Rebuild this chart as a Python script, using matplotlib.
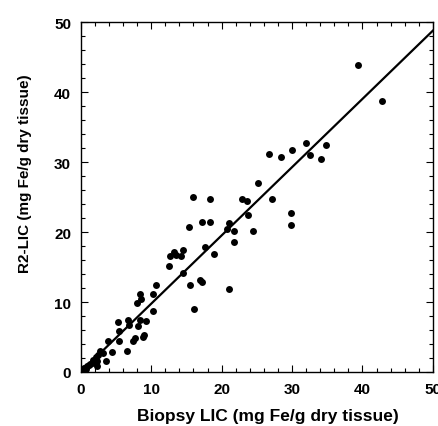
import numpy as np
import matplotlib
matplotlib.use('Agg')
import matplotlib.pyplot as plt
from matplotlib.ticker import MultipleLocator

plt.rcParams['font.family'] = ['Liberation Sans', 'DejaVu Sans']

# Biopsy LIC (x) vs R2-LIC (y), mg Fe/g dry tissue
biopsy_lic = [39.4, 42.8, 32.0, 34.8, 26.7, 28.4, 30.0, 32.5, 34.1, 25.2,
              22.9, 23.6, 27.1, 23.7, 29.9, 29.8, 24.5, 21.0, 20.7, 21.8,
              21.7, 15.9, 18.3, 17.2, 18.4, 15.3, 17.7, 18.9, 14.5, 13.2,
              12.7, 13.5, 14.2, 12.5, 14.5, 17.0, 17.2, 15.5, 21.0, 16.1,
              10.7, 10.3, 8.4, 8.6, 8.0, 10.2, 9.3, 8.4, 8.1, 6.7,
              6.9, 5.3, 5.4, 9.0, 8.8, 7.7, 7.4, 5.4, 6.6, 3.8,
              4.4, 2.8, 3.2, 3.6, 2.2, 2.3, 2.3, 1.6, 1.1, 0.6,
              0.3, 0.4, 1.3, 0.9, 1.8, 2.5, 0.2, 0.7]
r2_lic = [43.9, 38.8, 32.7, 32.5, 31.1, 30.8, 31.7, 31.0, 30.5, 27.0,
          24.7, 24.5, 24.7, 22.5, 22.7, 21.0, 20.2, 21.3, 20.5, 20.2,
          18.6, 25.0, 24.7, 21.4, 21.4, 20.8, 17.9, 16.9, 17.5, 17.2,
          16.6, 16.7, 16.6, 15.1, 14.1, 13.2, 12.9, 12.4, 11.8, 9.0,
          12.5, 11.1, 11.1, 10.5, 9.9, 8.7, 7.3, 7.4, 6.6, 7.4,
          6.7, 7.2, 5.9, 5.3, 5.0, 4.9, 4.5, 4.4, 3.0, 4.5,
          2.8, 3.0, 2.7, 1.6, 2.1, 1.6, 0.9, 1.3, 1.0, 0.6,
          0.2, 0.5, 1.2, 0.8, 1.7, 2.4, 0.1, 0.4]

# fitted line
slope = 0.976
intercept = 0.0

fig = plt.figure(figsize=(4.39, 4.27), dpi=100)
ax = fig.add_axes([0.184, 0.1265, 0.802, 0.819])

ax.plot(biopsy_lic, r2_lic, 'o', color='black', markersize=5, markeredgewidth=0)
xs = np.array([0, 50])
ax.plot(xs, slope * xs + intercept, color='black', linewidth=1.6)

ax.set_xlim(0, 50)
ax.set_ylim(0, 50)
ax.xaxis.set_major_locator(MultipleLocator(10))
ax.yaxis.set_major_locator(MultipleLocator(10))
ax.xaxis.set_minor_locator(MultipleLocator(2))
ax.yaxis.set_minor_locator(MultipleLocator(2))
ax.tick_params(which='both', direction='in', top=True, right=True, width=0.8)
ax.tick_params(which='major', length=5, labelsize=11, pad=7)
ax.tick_params(which='minor', length=3)
for lab in ax.get_xticklabels() + ax.get_yticklabels():
    lab.set_fontweight('bold')
for sp in ax.spines.values():
    sp.set_linewidth(1.0)

ax.set_xlabel('Biopsy LIC (mg Fe/g dry tissue)', fontsize=12.5, fontweight='bold')
ax.set_ylabel('R2-LIC (mg Fe/g dry tissue)', fontsize=11, fontweight='bold')
ax.xaxis.set_label_coords(0.532, -0.103)
ax.yaxis.set_label_coords(-0.138, 0.569)

fig.savefig('out.png', dpi=100)
